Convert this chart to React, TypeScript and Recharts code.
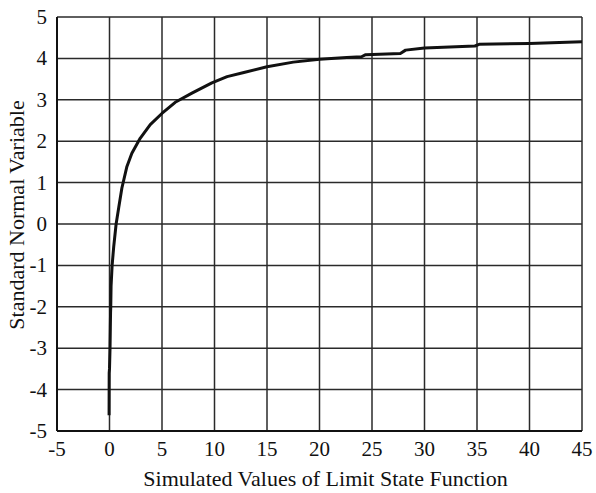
import React from "react";
import { LineChart, Line, XAxis, YAxis, CartesianGrid, Label } from "recharts";

const xValues = [-0.04, -0.03, 0.0, 0.05, 0.08, 0.1, 0.12, 0.15, 0.25, 0.4, 0.63, 0.88, 1.18, 1.66, 2.13, 2.92, 3.88, 4.99, 6.26, 7.85, 9.75, 11.2, 12.8, 15, 17.5, 20, 22.6, 24.0, 24.4, 27.7, 28.2, 30, 34.8, 35.2, 40, 45];
const yValues = [-4.62, -3.6, -3.5, -3.0, -2.5, -2.15, -2.0, -1.5, -1.0, -0.55, 0, 0.4, 0.87, 1.39, 1.71, 2.07, 2.4, 2.67, 2.94, 3.16, 3.41, 3.56, 3.66, 3.8, 3.91, 3.98, 4.02, 4.04, 4.09, 4.12, 4.2, 4.25, 4.3, 4.34, 4.36, 4.4];
const xTicks = [-5, 0, 5, 10, 15, 20, 25, 30, 35, 40, 45];
const yTicks = [-5, -4, -3, -2, -1, 0, 1, 2, 3, 4, 5];
const xTitle = "Simulated Values of Limit State Function";
const yTitle = "Standard Normal Variable";

const data = xValues.map((x, i) => ({ x, y: yValues[i] }));

const font = "'Liberation Serif', 'Times New Roman', serif";

const XTick = (props: any) => {
  const { x, y, payload } = props;
  return (
    <text x={x} y={y} dy={14} textAnchor="middle" fill="#111" fontSize={21} fontFamily={font}>
      {payload.value}
    </text>
  );
};

const YTick = (props: any) => {
  const { x, y, payload } = props;
  return (
    <text x={x} y={y} dy={7} textAnchor="end" fill="#111" fontSize={21} fontFamily={font}>
      {payload.value}
    </text>
  );
};

const XTitle = (props: any) => {
  const vb = props.viewBox;
  const cx = vb.x + vb.width / 2 + 6;
  return (
    <text x={cx} y={486} textAnchor="middle" fill="#111" fontSize={22} fontFamily={font}>
      {xTitle}
    </text>
  );
};

const YTitle = (props: any) => {
  const vb = props.viewBox;
  const cy = vb.y + vb.height / 2 - 9;
  const cx = 24;
  return (
    <text x={cx} y={cy} transform={`rotate(-90, ${cx}, ${cy})`} textAnchor="middle" fill="#111" fontSize={22} fontFamily={font}>
      {yTitle}
    </text>
  );
};

export default function App() {
  return (
    <div style={{ position: "absolute", left: 0, top: 0, width: 596, height: 493, background: "#fff", fontFamily: font }}>
      <LineChart width={596} height={493} data={data} margin={{ top: 17, right: 14, left: 0, bottom: 0 }} style={{ fontFamily: font }}>
        <CartesianGrid stroke="#2a2a2a" strokeWidth={1.5} strokeOpacity={1} />
        <XAxis
          type="number"
          dataKey="x"
          domain={[-5, 45]}
          ticks={xTicks}
          allowDataOverflow
          height={62}
          tickSize={0}
          tickMargin={11}
          stroke="#111"
          strokeWidth={2}
          tick={<XTick />}
        >
          <Label content={<XTitle />} />
        </XAxis>
        <YAxis
          type="number"
          domain={[-5, 5]}
          ticks={yTicks}
          allowDataOverflow
          width={57}
          tickSize={0}
          tickMargin={10}
          stroke="#111"
          strokeWidth={2}
          tick={<YTick />}
        >
          <Label content={<YTitle />} />
        </YAxis>
        <Line
          type="linear"
          dataKey="y"
          stroke="#111"
          strokeWidth={3}
          strokeLinejoin="round"
          dot={false}
          isAnimationActive={false}
        />
      </LineChart>
    </div>
  );
}
